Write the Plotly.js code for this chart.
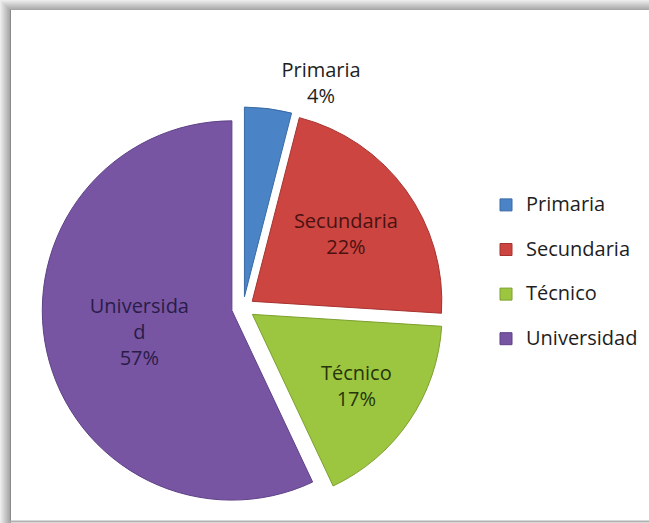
<!DOCTYPE html>
<html>
<head>
<meta charset="utf-8">
<script src="https://cdn.plot.ly/plotly-3.0.1.min.js"></script>
<style>
html,body{margin:0;padding:0;background:#fff;}
#chart{width:649px;height:523px;}
</style>
</head>
<body>
<div id="chart"></div>
<script>
// Data
const categories = ['Primaria', 'Secundaria', 'Técnico', 'Universidad'];
const percentages = [4, 22, 17, 57];
const sliceText = ['Primaria<br>4%', 'Secundaria<br>22%', 'Técnico<br>17%', 'Universida<br>d<br>57%'];

const colors = ['#4a84c6', '#cd4541', '#9cc63f', '#7755a3'];
const edgeColors = ['#3a6aa3', '#a6332f', '#7d9f2e', '#5e4186'];
const textColors = ['#1e1e1e', '#4a1210', '#26350a', '#2a1c48'];

const W = 649, H = 523;
const cx = 243, cy = 308, outerR = 201;

const trace = {
  type: 'pie',
  labels: categories.map(c => '<span style="font-size:20px">' + c + '</span><br>&nbsp;'),
  values: percentages,
  text: sliceText,
  texttemplate: '%{text}',
  textinfo: 'text',
  hoverinfo: 'none',
  sort: false,
  direction: 'clockwise',
  rotation: 0,
  pull: [0.06, 0.06, 0.06, 0.06],
  textposition: ['outside', 'inside', 'inside', 'inside'],
  insidetextorientation: 'horizontal',
  textfont: {family: 'Open Sans, sans-serif', size: 20, color: textColors},
  outsidetextfont: {family: 'Open Sans, sans-serif', size: 20, color: '#1e1e1e'},
  marker: {colors: colors, line: {color: edgeColors, width: 1}},
  domain: {
    x: [(cx - outerR) / W, (cx + outerR) / W],
    y: [(H - cy - outerR) / H, (H - cy + outerR) / H]
  },
  automargin: false
};

const shapes = [];
function lerpGray(a, b, t) {
  const v = Math.round(a + (b - a) * t);
  return 'rgb(' + v + ',' + v + ',' + v + ')';
}
for (let i = 0; i < 10; i++) {
  const c = lerpGray(236, 168, i / 9);
  // top band stripe
  shapes.push({type: 'rect', xref: 'paper', yref: 'paper', layer: 'below',
    x0: i / W, x1: 1, y0: 1 - (i + 1) / H, y1: 1 - i / H,
    fillcolor: c, line: {width: 0}});
  // left band stripe
  shapes.push({type: 'rect', xref: 'paper', yref: 'paper', layer: 'below',
    x0: i / W, x1: (i + 1) / W, y0: 0, y1: 1 - i / H,
    fillcolor: c, line: {width: 0}});
}
// left border line
shapes.push({type: 'line', xref: 'paper', yref: 'paper', layer: 'below',
  x0: 10.5 / W, x1: 10.5 / W, y0: 0, y1: 1 - 10 / H,
  line: {color: '#8a8a8a', width: 1}});
// bottom border line
shapes.push({type: 'line', xref: 'paper', yref: 'paper', layer: 'below',
  x0: 10 / W, x1: 1, y0: 1.5 / H, y1: 1.5 / H,
  line: {color: '#b0b0b0', width: 2}});

const layout = {
  width: W, height: H,
  margin: {l: 0, r: 0, t: 0, b: 0},
  paper_bgcolor: '#ffffff',
  showlegend: true,
  legend: {
    x: 486 / W, y: 1 - 188 / H, xanchor: 'left', yanchor: 'top',
    font: {family: 'Open Sans, sans-serif', size: 16, color: '#1e1e1e'},
    valign: 'top',
    bgcolor: 'rgba(0,0,0,0)'
  },
  shapes: shapes
};

Plotly.newPlot('chart', [trace], layout, {displayModeBar: false, staticPlot: true});
</script>
</body>
</html>
